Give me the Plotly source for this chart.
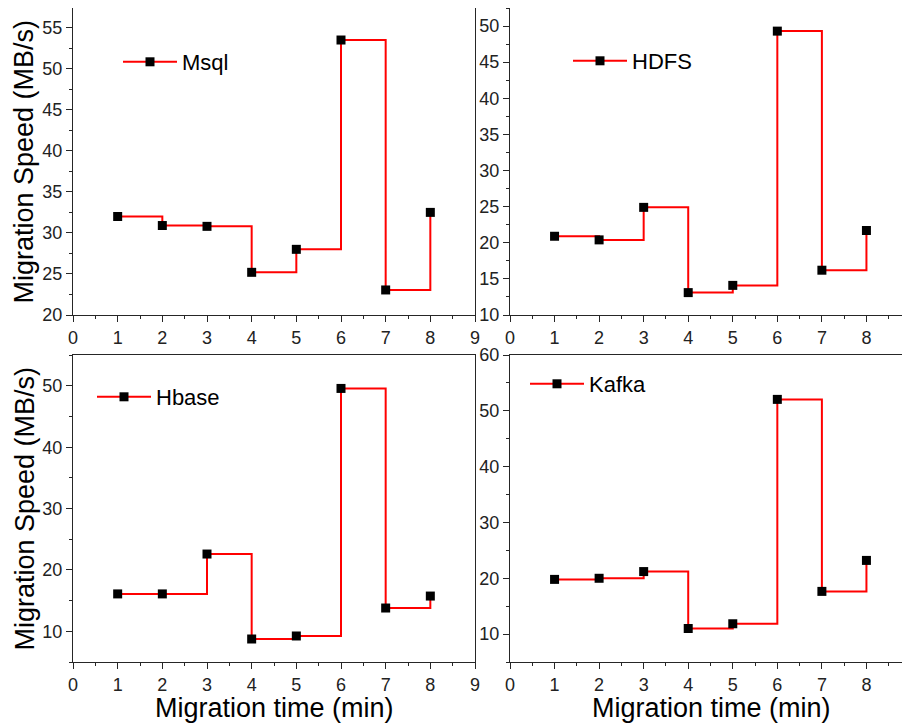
import plotly.graph_objects as go

# page offset (browser body margin) compensation
OFF = 8
W, H = 910, 725 - OFF

time_min = [1, 2, 3, 4, 5, 6, 7, 8]
msql = [32.0, 30.9, 30.8, 25.2, 28.0, 53.5, 23.05, 32.5]
hdfs = [20.9, 20.4, 24.9, 13.1, 14.1, 49.3, 16.2, 21.7]
hbase = [16.1, 16.1, 22.6, 8.75, 9.24, 49.6, 13.8, 15.75]
kafka = [19.8, 20.0, 21.2, 11.0, 11.85, 52.05, 17.65, 23.2]

names = ["Msql", "HDFS", "Hbase", "Kafka"]
series = [msql, hdfs, hbase, kafka]

# panel page-pixel boxes: left, right, top, bottom
boxes = [(73, 475, 8, 315), (510, 911, 8, 315), (73, 475, 355, 662), (510, 911, 355, 662)]
yranges = [[20, 57.4], [10, 52.5], [5, 55.05], [5, 60]]
ydticks = [5, 5, 10, 10]
# page pixel of legend marker centre
legpos = [(150, 62), (600, 61), (124, 397), (557, 384)]

FONT = "Arial, Liberation Sans, sans-serif"
AX = "#262626"
ITEMW = 54


def px(x):
    return (x - OFF) / W


def py(y):
    return 1 - (y - OFF) / H


fig = go.Figure()
layout = dict(width=W, height=H, margin=dict(l=0, r=0, t=0, b=0, autoexpand=False),
              paper_bgcolor="white", plot_bgcolor="white",
              font=dict(family=FONT, color="black", size=18), annotations=[])

for i, (nm, vals) in enumerate(zip(names, series)):
    k = "" if i == 0 else str(i + 1)
    lg = "legend" if i == 0 else "legend" + str(i + 1)
    fig.add_trace(go.Scatter(
        x=time_min, y=vals, name=nm, mode="lines+markers",
        line=dict(color="#ff0000", width=2, shape="hv"),
        marker=dict(symbol="square", size=9, color="black"),
        xaxis="x" + k, yaxis="y" + k, legend=lg, showlegend=True, cliponaxis=False))
    l, r, t, b = boxes[i]
    axcommon = dict(showgrid=False, zeroline=False, showline=True, linecolor=AX,
                    linewidth=1.3, mirror=True, ticks="outside", ticklen=6,
                    tickwidth=1.2, tickcolor=AX, automargin=False,
                    tickfont=dict(family=FONT, size=18, color="#222"))
    layout["xaxis" + k] = dict(axcommon, domain=[px(l), min(px(r), 1.0)], range=[0, 9], dtick=1,
                               anchor="y" + k,
                               minor=dict(ticks="outside", ticklen=3, dtick=0.5,
                                          tickcolor=AX, tickwidth=1))
    layout["yaxis" + k] = dict(axcommon, domain=[py(b), py(t)], range=yranges[i],
                               dtick=ydticks[i], anchor="x" + k,
                               minor=dict(ticks="outside", ticklen=3,
                                          dtick=ydticks[i] / 2, tickcolor=AX, tickwidth=1))
    lx, ly = legpos[i]
    layout[lg] = dict(x=px(lx - 5 - ITEMW / 2), y=py(ly), xanchor="left", yanchor="middle",
                      xref="paper", yref="paper", itemwidth=ITEMW,
                      bgcolor="rgba(0,0,0,0)", borderwidth=0,
                      font=dict(family=FONT, size=22, color="black"))

# axis titles
for yc in [(8 + 315) / 2, (355 + 662) / 2]:
    layout["annotations"].append(dict(
        text="Migration Speed (MB/s)", x=px(24), y=py(yc), xref="paper", yref="paper",
        textangle=-90, showarrow=False, xanchor="center", yanchor="middle",
        font=dict(family=FONT, size=27, color="black")))
for xc in [274, 711]:
    layout["annotations"].append(dict(
        text="Migration time (min)", x=px(xc), y=py(708), xref="paper", yref="paper",
        showarrow=False, xanchor="center", yanchor="middle",
        font=dict(family=FONT, size=27, color="black")))

fig.update_layout(**layout)
fig.write_html("out.html")
